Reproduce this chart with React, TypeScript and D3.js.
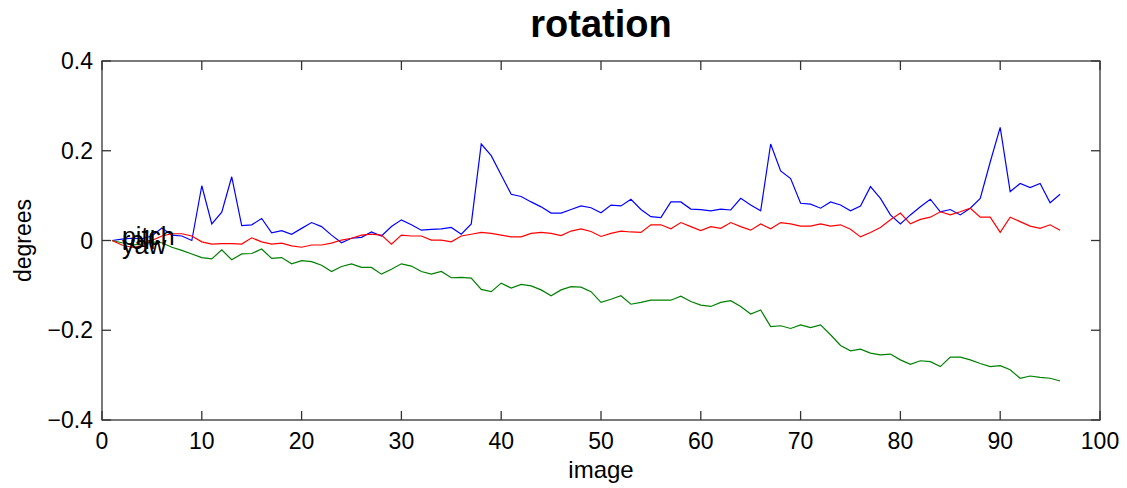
import { useRef, useEffect } from "react";
import * as d3 from "d3";

// image index 1..96
const images = d3.range(1, 97);

const pitch = [
  0, 0.003, 0.005, 0.004, 0.01, 0.028, 0.012, 0.01, 0, 0.122,
  0.037, 0.063, 0.142, 0.033, 0.035, 0.049, 0.017, 0.022, 0.014, 0.027,
  0.04, 0.031, 0.012, -0.005, 0.005, 0.007, 0.019, 0.01, 0.031, 0.046,
  0.035, 0.023, 0.025, 0.026, 0.029, 0.014, 0.037, 0.215, 0.189, 0.146,
  0.103, 0.098, 0.086, 0.075, 0.061, 0.061, 0.069, 0.077, 0.073, 0.062,
  0.079, 0.077, 0.092, 0.069, 0.053, 0.051, 0.086, 0.086, 0.07, 0.069,
  0.066, 0.07, 0.068, 0.094, 0.079, 0.066, 0.215, 0.155, 0.138, 0.083,
  0.081, 0.072, 0.086, 0.079, 0.066, 0.077, 0.12, 0.094, 0.057, 0.037,
  0.057, 0.075, 0.092, 0.064, 0.069, 0.057, 0.072, 0.094, 0.175, 0.252,
  0.109, 0.127, 0.118, 0.127, 0.084, 0.103,
];

const roll = [
  0, -0.01, -0.015, -0.012, 0, 0.01, 0.015, 0.015, 0.01, -0.003,
  -0.008, -0.007, -0.007, -0.008, 0.006, -0.003, -0.008, -0.006, -0.012, -0.015,
  -0.01, -0.01, -0.006, 0.001, 0.005, 0.012, 0.014, 0.012, -0.008, 0.012,
  0.01, 0.01, 0.001, 0.001, -0.003, 0.01, 0.014, 0.018, 0.016, 0.012,
  0.008, 0.008, 0.016, 0.018, 0.016, 0.011, 0.021, 0.026, 0.02, 0.009,
  0.016, 0.021, 0.019, 0.018, 0.035, 0.035, 0.026, 0.04, 0.031, 0.022,
  0.031, 0.027, 0.04, 0.031, 0.023, 0.037, 0.026, 0.04, 0.037, 0.032,
  0.032, 0.037, 0.032, 0.035, 0.025, 0.008, 0.018, 0.029, 0.046, 0.061,
  0.037, 0.047, 0.052, 0.064, 0.057, 0.064, 0.072, 0.052, 0.052, 0.018,
  0.052, 0.042, 0.032, 0.027, 0.035, 0.023,
];

const yaw = [
  0, -0.005, -0.01, -0.008, -0.003, -0.005, -0.015, -0.022, -0.03, -0.038,
  -0.041, -0.021, -0.043, -0.03, -0.029, -0.019, -0.04, -0.038, -0.052, -0.045,
  -0.047, -0.055, -0.069, -0.058, -0.052, -0.06, -0.06, -0.075, -0.064, -0.052,
  -0.057, -0.069, -0.075, -0.069, -0.083, -0.082, -0.084, -0.109, -0.114, -0.095,
  -0.106, -0.098, -0.101, -0.11, -0.123, -0.11, -0.103, -0.104, -0.114, -0.138,
  -0.131, -0.123, -0.142, -0.138, -0.133, -0.133, -0.133, -0.124, -0.136, -0.144,
  -0.147, -0.138, -0.134, -0.147, -0.164, -0.155, -0.192, -0.19, -0.196, -0.188,
  -0.194, -0.188, -0.21, -0.234, -0.246, -0.242, -0.251, -0.255, -0.253, -0.266,
  -0.276, -0.268, -0.27, -0.281, -0.26, -0.26, -0.266, -0.274, -0.281, -0.279,
  -0.288, -0.307, -0.302, -0.305, -0.307, -0.313,
];

const xTicks = [0, 10, 20, 30, 40, 50, 60, 70, 80, 90, 100];
const yTicks = [-0.4, -0.2, 0, 0.2, 0.4];

// text labels placed by the plot at image 2 (they overlap in the original too)
const labelNames = ["pitch", "roll", "yaw"];
const labelValues = [-0.01, -0.019, -0.03];

function App() {
  const svgRef = useRef(null);

  useEffect(() => {
    const w = 1127;
    const h = 488;
    const m = { top: 61, right: 27, bottom: 68, left: 102 };
    const svg = d3.select(svgRef.current);
    svg.selectAll("*").remove();
    svg.attr("width", w).attr("height", h);

    const font = "'Liberation Sans', Arial, Helvetica, sans-serif";

    const x = d3.scaleLinear().domain([0, 100]).range([m.left, w - m.right]);
    const y = d3.scaleLinear().domain([-0.4, 0.4]).range([h - m.bottom, m.top]);

    svg.append("rect").attr("width", w).attr("height", h).attr("fill", "#fff");

    // lines
    const series = [
      { values: pitch, color: "#0000ff" },
      { values: yaw, color: "#008000" },
      { values: roll, color: "#ff0000" },
    ];
    const line = d3
      .line<number>()
      .x((d, i) => x(images[i]))
      .y((d) => y(d));
    series.forEach((s) => {
      svg
        .append("path")
        .attr("d", line(s.values))
        .attr("fill", "none")
        .attr("stroke", s.color)
        .attr("stroke-width", 1.2);
    });

    // box with inward ticks
    const tl = 9;
    const axisColor = "#333";
    const g = svg.append("g").attr("stroke", axisColor).attr("stroke-width", 1.3);
    g.append("rect")
      .attr("x", x(0))
      .attr("y", y(0.4))
      .attr("width", x(100) - x(0))
      .attr("height", y(-0.4) - y(0.4))
      .attr("fill", "none");
    xTicks.forEach((t) => {
      g.append("line").attr("x1", x(t)).attr("x2", x(t)).attr("y1", y(-0.4)).attr("y2", y(-0.4) - tl);
      g.append("line").attr("x1", x(t)).attr("x2", x(t)).attr("y1", y(0.4)).attr("y2", y(0.4) + tl);
    });
    yTicks.forEach((t) => {
      g.append("line").attr("x1", x(0)).attr("x2", x(0) + tl).attr("y1", y(t)).attr("y2", y(t));
      g.append("line").attr("x1", x(100)).attr("x2", x(100) - tl).attr("y1", y(t)).attr("y2", y(t));
    });

    // tick labels
    svg
      .selectAll(".xt")
      .data(xTicks)
      .enter()
      .append("text")
      .attr("x", (d) => x(d))
      .attr("y", y(-0.4) + 29)
      .attr("text-anchor", "middle")
      .attr("font-family", font)
      .attr("font-size", 23)
      .text((d) => d3.format("d")(d));
    svg
      .selectAll(".yt")
      .data(yTicks)
      .enter()
      .append("text")
      .attr("x", x(0) - 9)
      .attr("y", (d) => y(d) + 8)
      .attr("text-anchor", "end")
      .attr("font-family", font)
      .attr("font-size", 23)
      .text((d) => (d === 0 ? "0" : d3.format(".1f")(d).replace("-", "\u2212")));

    // axis titles
    svg
      .append("text")
      .attr("x", (x(0) + x(100)) / 2)
      .attr("y", h - 10)
      .attr("text-anchor", "middle")
      .attr("font-family", font)
      .attr("font-size", 24)
      .text("image");
    svg
      .append("text")
      .attr("transform", `translate(31, ${y(0)}) rotate(-90)`)
      .attr("text-anchor", "middle")
      .attr("font-family", font)
      .attr("font-size", 23)
      .text("degrees");
    svg
      .append("text")
      .attr("x", (x(0) + x(100)) / 2)
      .attr("y", 37)
      .attr("text-anchor", "middle")
      .attr("font-family", font)
      .attr("font-weight", "bold")
      .attr("font-size", 38)
      .text("rotation");

    // series labels
    labelNames.forEach((name, i) => {
      svg
        .append("text")
        .attr("x", x(2))
        .attr("y", y(labelValues[i]))
        .attr("font-family", font)
        .attr("font-size", 25)
        .attr("fill", "#000")
        .text(name);
    });
  }, []);

  return (
    <svg
      ref={svgRef}
      style={{ position: "absolute", left: 0, top: 0, display: "block" }}
    ></svg>
  );
}

export default App;
